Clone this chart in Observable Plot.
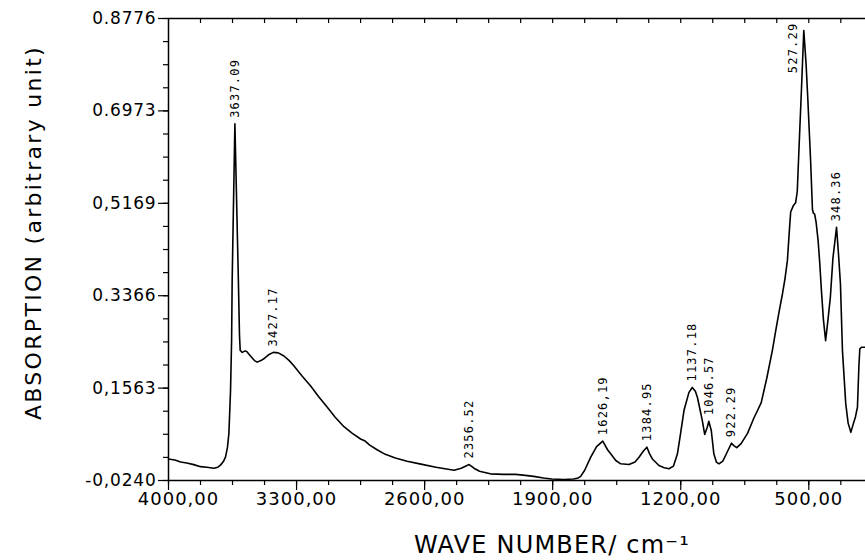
<!DOCTYPE html>
<html><head><meta charset="utf-8">
<script src="https://cdn.jsdelivr.net/npm/d3@7"></script>
<script src="https://cdn.jsdelivr.net/npm/@observablehq/plot@0.6"></script>
<style>body{margin:0;background:#fff;}</style>
</head><body><div id="chart"></div>
<script>
// Spectrum (wave number in cm-1, absorption in arbitrary units)
const wavenumber = [4000,3965,3934,3900,3862,3825,3790,3752,3730,3716,3700,3688,3678,3670,3661,3655,3652,3637.09,3618,3612,3608,3597,3580,3570,3552,3530,3515,3495,3479,3450,3427.17,3400,3369,3340,3315,3270,3224,3180,3132,3090,3041,2995,2950,2925,2900,2860,2815,2760,2696,2620,2538,2439,2400,2356.52,2330,2300,2241,2170,2102,2050,2004,1950,1905,1840,1786,1760,1747,1725,1692,1660,1626.19,1600,1583,1555,1528,1483,1450,1428,1405,1384.95,1370,1355,1319,1290,1264,1240,1218,1200,1182,1155,1137.18,1120,1109,1095,1082,1069,1055,1046.57,1033,1019,1005,991,970,955,940,922.29,910,894,870,835,800,777,760,730,699,680,660,644,630,617,605,599,585,572,563,554,540,527.29,515,505,490,480,475,468,460,449,440,431,420,408,395,382,368,348.36,338,327,316,298,285,270,258,245,234,226,221,212,190];
const absorbance = [0.018,0.016,0.012,0.010,0.007,0.003,0.002,0.000,0.002,0.006,0.013,0.022,0.040,0.067,0.150,0.250,0.366,0.672,0.366,0.260,0.230,0.226,0.229,0.227,0.219,0.210,0.207,0.210,0.2135,0.222,0.226,0.225,0.219,0.210,0.200,0.180,0.161,0.140,0.119,0.100,0.081,0.068,0.057,0.053,0.045,0.036,0.027,0.020,0.0137,0.008,0.002,-0.004,0.000,0.0072,0.000,-0.006,-0.011,-0.012,-0.012,-0.014,-0.016,-0.019,-0.021,-0.022,-0.021,-0.019,-0.016,-0.004,0.0215,0.042,0.0527,0.036,0.028,0.015,0.0086,0.0072,0.012,0.0215,0.033,0.041,0.028,0.018,0.0053,0.001,-0.001,0.004,0.028,0.070,0.113,0.148,0.1575,0.150,0.1385,0.115,0.093,0.066,0.080,0.0917,0.0736,0.028,0.012,0.0086,0.014,0.0248,0.036,0.0488,0.044,0.040,0.048,0.068,0.098,0.115,0.128,0.175,0.230,0.270,0.310,0.340,0.370,0.405,0.470,0.500,0.512,0.518,0.540,0.620,0.740,0.854,0.790,0.718,0.600,0.505,0.498,0.496,0.480,0.444,0.400,0.347,0.290,0.249,0.290,0.334,0.410,0.470,0.420,0.360,0.230,0.126,0.088,0.070,0.085,0.100,0.119,0.200,0.233,0.236,0.236];

// Annotated peaks
const peakWavenumber = [3637.09,3427.17,2356.52,1626.19,1384.95,1137.18,1046.57,922.29,527.29,348.36];
const peakAbsorbance = [0.672,0.226,0.0072,0.0527,0.041,0.1575,0.0917,0.0488,0.854,0.470];
const peakLabel = ["3637.09","3427.17","2356.52","1626,19","1384.95","1137.18","1046.57","922.29","527.29","348.36"];

// Axes
const xTickValues = [4000,3300,2600,1900,1200,500];
const xTickLabels = ["4000,00","3300,00","2600,00","1900,00","1200,00","500,00"];
const yTickValues = [-0.0240,0.1563,0.3366,0.5169,0.6973,0.8776];
const yTickLabels = ["-0,0240","0,1563","0.3366","0,5169","0.6973","0.8776"];
const xDomain = [4000, 190];
const xTitle = "WAVE NUMBER/ cm\u207B\u00B9";
const yTitle = "ABSORPTION (arbitrary unit)";

const W = 865, H = 560, mL = 168, mR = 0, mT = 18, mB = 80;
const frameH = H - mT - mB;

const spectrum = wavenumber.map((w, i) => ({w, a: absorbance[i]}));
const peaks = peakWavenumber.map((w, i) => ({w, a: peakAbsorbance[i], label: peakLabel[i]}));
const yDomain = [yTickValues[0], yTickValues[yTickValues.length - 1]];
const nearTop = p => p.a > yDomain[1] - 0.1;
const xLabelMap = new Map(xTickValues.map((v, i) => [v, xTickLabels[i]]));
const yLabelMap = new Map(yTickValues.map((v, i) => [v, yTickLabels[i]]));
// minor ticks: quarters of the major intervals
const xStep = (xTickValues[0] - xTickValues[1]) / 4;
const xMinor = d3.range(xTickValues[0], xDomain[1], -xStep);
const yMinor = [];
for (let i = 0; i < yTickValues.length - 1; i++)
  for (let k = 0; k < 4; k++) yMinor.push(yTickValues[i] + (yTickValues[i + 1] - yTickValues[i]) * k / 4);
yMinor.push(yDomain[1]);

const chart = Plot.plot({
  width: W, height: H,
  marginLeft: mL, marginRight: mR, marginTop: mT, marginBottom: mB,
  style: {fontFamily: "DejaVu Sans", background: "#fff", color: "#000", overflow: "visible"},
  x: {domain: xDomain},
  y: {domain: yDomain},
  marks: [
    // frame lines
    Plot.ruleX([xDomain[0]], {stroke: "#000", strokeWidth: 1.5}),
    Plot.ruleY([yDomain[0]], {stroke: "#000", strokeWidth: 1.5}),
    Plot.ruleY([yDomain[1]], {stroke: "#000", strokeWidth: 1.3}),
    // y axis
    Plot.axisY(yMinor, {tickSize: 5, fill: "none", strokeWidth: 1.2, label: null}),
    Plot.axisY(yTickValues, {tickSize: 10, tickPadding: 2, strokeWidth: 1.2, fontSize: 17,
      tickFormat: d => yLabelMap.get(d), label: null}),
    // x axis bottom
    Plot.axisX(xMinor, {tickSize: 5, fill: "none", strokeWidth: 1.2, label: null}),
    Plot.axisX(xTickValues, {tickSize: 10, fill: "none", strokeWidth: 1.2, label: null}),
    Plot.axisX(xTickValues.slice(1), {tickSize: 0, tickPadding: 12, fontSize: 18,
      tickFormat: d => xLabelMap.get(d), label: null}),
    Plot.axisX(xTickValues.slice(0, 1), {tickSize: 0, tickPadding: 12, fontSize: 18, dx: 10,
      tickFormat: d => xLabelMap.get(d), label: null}),
    // top inward ticks
    Plot.tickX(xMinor.slice(1), {x: d => d, stroke: "#000", strokeWidth: 1.2, insetBottom: frameH - 5}),
    // spectrum
    Plot.line(spectrum, {x: "w", y: "a", stroke: "#000", strokeWidth: 1.6, strokeLinejoin: "round"}),
    // peak labels
    Plot.text(peaks.filter(p => !nearTop(p)), {x: "w", y: "a", text: "label", rotate: -90,
      textAnchor: "start", dy: -6, fontFamily: "DejaVu Sans Mono", fontSize: 12, fill: "#000"}),
    Plot.text(peaks.filter(nearTop), {x: "w", y: "a", text: "label", rotate: -90,
      textAnchor: "end", dx: -11, dy: -8, fontFamily: "DejaVu Sans Mono", fontSize: 12, fill: "#000"}),
    // axis titles
    Plot.text([yTitle], {frameAnchor: "left", rotate: -90, textAnchor: "middle", lineAnchor: "middle",
      dx: -135, dy: -17, fontSize: 22, fill: "#000"}),
    Plot.text([xTitle], {frameAnchor: "bottom", textAnchor: "middle", lineAnchor: "middle",
      dx: 35, dy: 65, fontSize: 24, fill: "#000"})
  ]
});

// letter spacing by text content
const spacing = new Map();
yTickLabels.forEach(t => spacing.set(t, "0.8px"));
xTickLabels.forEach(t => spacing.set(t, "1px"));
peakLabel.forEach(t => spacing.set(t, "1.2px"));
spacing.set(yTitle, "2.3px");
spacing.set(xTitle, "1.2px");
chart.querySelectorAll("text").forEach(t => {
  const s = spacing.get(t.textContent);
  if (s) { t.setAttribute("letter-spacing", s); t.style.letterSpacing = s; }
});
document.getElementById("chart").appendChild(chart);
</script>
</body></html>
